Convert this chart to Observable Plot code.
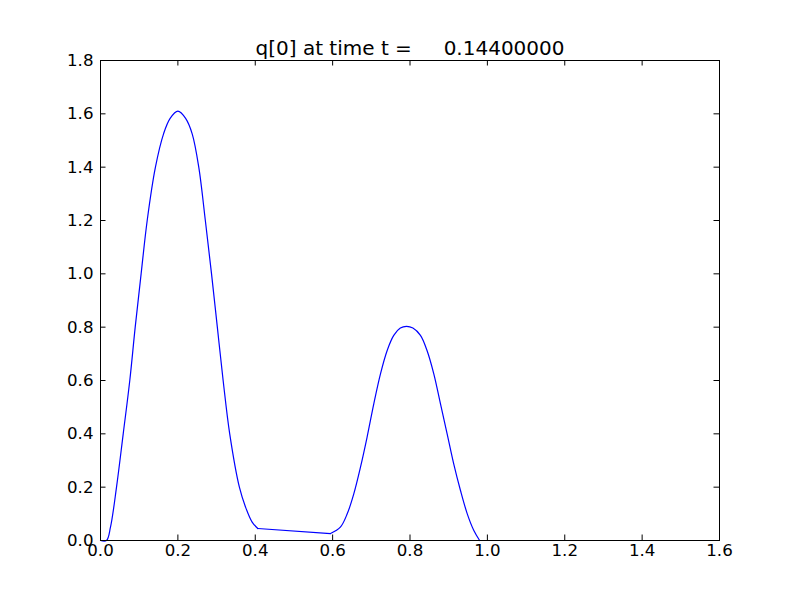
<!DOCTYPE html>
<html>
<head>
<meta charset="utf-8">
<script src="https://cdn.jsdelivr.net/npm/d3@7"></script>
<script src="https://cdn.jsdelivr.net/npm/@observablehq/plot@0.6"></script>
<style>
  html, body { margin: 0; padding: 0; background: #fff; }
</style>
</head>
<body>
<div id="chart"></div>
<script>
const titleText = "q[0] at time t =     0.14400000";
const xTicks = [0.0, 0.2, 0.4, 0.6, 0.8, 1.0, 1.2, 1.4, 1.6];
const yTicks = [0.0, 0.2, 0.4, 0.6, 0.8, 1.0, 1.2, 1.4, 1.6, 1.8];
const xValues = [0.0, 0.0155, 0.0258, 0.0414, 0.0587, 0.0757, 0.0897, 0.105, 0.1207, 0.142, 0.163, 0.18, 0.2, 0.22, 0.237, 0.254, 0.271, 0.287, 0.302, 0.317, 0.334, 0.359, 0.375, 0.392, 0.4066,
  0.5945, 0.620, 0.6377, 0.6547, 0.672, 0.689, 0.7064, 0.7237, 0.741, 0.758, 0.775, 0.791, 0.8075, 0.827, 0.844, 0.8615, 0.8788, 0.896, 0.913, 0.9305, 0.948, 0.965, 0.980];
const qValues = [0.0, 0.0, 0.05, 0.2, 0.4, 0.6, 0.8, 1.0, 1.2, 1.4, 1.525, 1.583, 1.61, 1.583, 1.525, 1.4, 1.2, 1.0, 0.8, 0.6, 0.4, 0.2, 0.125, 0.069, 0.045,
  0.026, 0.050, 0.100, 0.175, 0.275, 0.387, 0.5125, 0.625, 0.7125, 0.769, 0.7965, 0.803, 0.7965, 0.769, 0.7125, 0.625, 0.5125, 0.40, 0.2875, 0.1875, 0.10, 0.0375, 0.0];

const data = xValues.map((x, i) => ({x, q: qValues[i]}));
// kink points: the segment between the two humps is straight
const k1 = xValues.indexOf(0.4066), k2 = xValues.indexOf(0.5945);
const humps = [
  ...data.slice(0, k1 + 1).map(d => ({...d, seg: "a"})),
  ...data.slice(k2).map(d => ({...d, seg: "b"}))
];
const bridge = data.slice(k1, k2 + 1);

const W = 800, H = 600, mL = 100, mR = 81, mT = 60, mB = 60;
const fw = W - mL - mR, fh = H - mT - mB, tick = 5.5;

const chart = Plot.plot({
  width: W, height: H,
  marginLeft: mL, marginRight: mR, marginTop: mT, marginBottom: mB,
  style: {fontFamily: "'DejaVu Sans', sans-serif", fontSize: "16.67px", color: "black", background: "white", whiteSpace: "pre"},
  x: {domain: [0, 1.6], axis: null},
  y: {domain: [0, 1.8], axis: null},
  marks: [
    Plot.line(humps, {x: "x", y: "q", z: "seg", stroke: "#0000ff", strokeWidth: 1.2, curve: "catmull-rom"}),
    Plot.line(bridge, {x: "x", y: "q", stroke: "#0000ff", strokeWidth: 1.2, curve: "linear"}),
    Plot.ruleX(xTicks, {stroke: "black", insetTop: fh - tick}),
    Plot.ruleX(xTicks, {stroke: "black", insetBottom: fh - tick}),
    Plot.ruleY(yTicks, {stroke: "black", insetRight: fw - tick}),
    Plot.ruleY(yTicks, {stroke: "black", insetLeft: fw - tick}),
    Plot.frame({stroke: "black", strokeWidth: 1}),
    Plot.axisX(xTicks, {label: null, tickSize: 0, tickPadding: 4, tickFormat: d => d.toFixed(1), fontSize: 16.67, fill: "black"}),
    Plot.axisY(yTicks, {label: null, tickSize: 0, tickPadding: 7, tickFormat: d => d.toFixed(1), fontSize: 16.67, fill: "black"}),
    Plot.text([titleText], {frameAnchor: "top", dy: -6, lineAnchor: "bottom", fontSize: 20, fill: "black", text: d => d})
  ]
});
document.getElementById("chart").appendChild(chart);
</script>
</body>
</html>
